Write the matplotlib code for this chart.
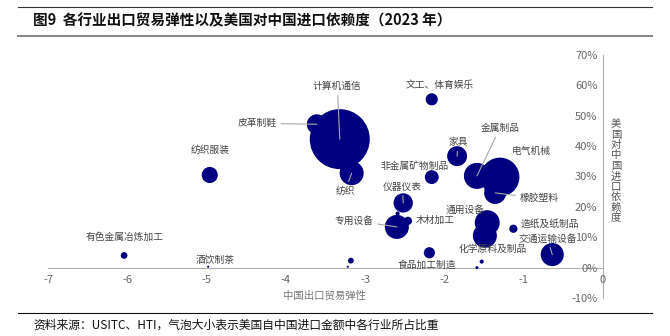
import matplotlib
matplotlib.use("Agg")
import matplotlib.pyplot as plt
from matplotlib.lines import Line2D

plt.rcParams['font.family'] = ['Noto Sans CJK SC', 'DejaVu Sans']

# ---- data ----
industries = ["计算机通信", "皮革制鞋", "纺织", "纺织服装", "有色金属冶炼加工", "酒饮制茶",
              "文工、体育娱乐", "金属制品", "家具", "电气机械", "非金属矿物制品", "仪器仪表",
              "橡胶塑料", "通用设备", "专用设备", "木材加工", "造纸及纸制品", "交通运输设备",
              "化学原料及制品", "食品加工制造", "", "", "", "", ""]
elasticity = [-3.32, -3.61, -3.17, -4.96, -6.04, -4.98,
              -2.16, -1.59, -1.84, -1.30, -2.16, -2.52,
              -1.36, -1.46, -2.60, -2.46, -1.13, -0.64,
              -1.49, -2.19, -2.59, -3.18, -3.22, -1.53, -1.59]
dependence = [42.3, 47.2, 31.1, 30.5, 4.0, 0.3,
              55.4, 30.2, 36.7, 29.8, 29.8, 21.3,
              24.6, 14.8, 13.4, 15.4, 12.8, 4.3,
              10.5, 4.9, 17.8, 2.3, 0.3, 2.0, 0.0]
share = [31.8, 3.5, 5.1, 2.3, 0.4, 0.04,
         1.3, 6.0, 3.5, 13.4, 1.7, 3.3,
         4.3, 5.5, 5.1, 0.6, 0.6, 4.7,
         5.1, 1.1, 0.15, 0.3, 0.04, 0.15, 0.08]
x_ticks = [-7, -6, -5, -4, -3, -2, -1, 0]
y_ticks = [-10, 0, 10, 20, 30, 40, 50, 60, 70]

# label positions (text placement) and whether a leader line is drawn
label_pos = {
    "计算机通信": (-3.35, 59.7, True),
    "皮革制鞋": (-4.36, 47.5, True),
    "纺织": (-3.25, 25.4, True),
    "纺织服装": (-4.96, 38.6, False),
    "有色金属冶炼加工": (-6.04, 10.2, False),
    "酒饮制茶": (-4.89, 2.6, False),
    "文工、体育娱乐": (-2.06, 60.1, False),
    "金属制品": (-1.30, 45.9, True),
    "家具": (-1.83, 41.3, True),
    "电气机械": (-0.90, 38.3, False),
    "非金属矿物制品": (-2.37, 33.3, False),
    "仪器仪表": (-2.53, 26.7, True),
    "橡胶塑料": (-0.81, 22.8, True),
    "通用设备": (-1.74, 19.1, False),
    "专用设备": (-3.14, 15.5, True),
    "木材加工": (-2.11, 15.8, False),
    "造纸及纸制品": (-0.67, 14.5, False),
    "交通运输设备": (-0.70, 9.6, True),
    "化学原料及制品": (-1.39, 6.3, False),
    "食品加工制造": (-2.22, 1.0, False),
}

W, H = 670, 336
fig = plt.figure(figsize=(W / 100, H / 100), dpi=100)
ax = fig.add_axes([48 / W, 1 - 298 / H, (603 - 48) / W, (298 - 55) / H])

ax.scatter(elasticity, dependence, s=[v * 58.7 for v in share], color="#000080",
           linewidths=0, zorder=3)

ax.set_xlim(-7, 0)
ax.set_ylim(-10, 70)
for s in ["top", "right"]:
    ax.spines[s].set_visible(False)
ax.spines["left"].set_position(("data", 0))
ax.spines["bottom"].set_position(("data", 0))
for s in ["left", "bottom"]:
    ax.spines[s].set_color("#b0b0b0")
    ax.spines[s].set_linewidth(0.8)
    ax.spines[s].set_zorder(1)
ax.set_xticks(x_ticks)
ax.set_xticklabels([str(t) for t in x_ticks])
ax.set_yticks(y_ticks)
ax.set_yticklabels([f"{t}%" for t in y_ticks])
ax.tick_params(axis="both", length=0, labelsize=8, labelcolor="#666666")
ax.tick_params(axis="x", pad=5)
ax.tick_params(axis="y", pad=4)

lab_col = "#444444"
for name, x, y in zip(industries, elasticity, dependence):
    if not name:
        continue
    tx, ty, line = label_pos[name]
    if line:
        ax.annotate(name, xy=(x, y), xytext=(tx, ty), ha="center", va="center",
                    fontsize=7, color=lab_col, zorder=5,
                    arrowprops=dict(arrowstyle="-", color="#a8a8a8", lw=0.8,
                                    shrinkA=1, shrinkB=0))
    else:
        ax.text(tx, ty, name, ha="center", va="center", fontsize=7,
                color=lab_col, zorder=5)

fig.text(325 / W, 1 - 296 / H, "中国出口贸易弹性", ha="center", va="center",
         fontsize=7.5, color="#777777")
fig.text(616 / W, 1 - 171 / H, "\n".join("美国对中国进口依赖度"), ha="center",
         va="center", fontsize=7.5, color="#555555", linespacing=1.05)

# title & source
fig.text(33 / W, 1 - 20 / H, "图9  各行业出口贸易弹性以及美国对中国进口依赖度（2023 年）",
         ha="left", va="center", fontsize=10.5, fontweight="bold", color="#111111")
fig.text(33 / W, 1 - 325 / H, "资料来源：USITC、HTI，气泡大小表示美国自中国进口金额中各行业所占比重",
         ha="left", va="center", fontsize=8.5, color="#111111")
fig.add_artist(Line2D([18 / W, 652 / W], [1 - 7 / H, 1 - 7 / H], color="#333333", lw=0.8))
fig.add_artist(Line2D([18 / W, 652 / W], [1 - 36 / H, 1 - 36 / H], color="#888888", lw=1.5))
fig.add_artist(Line2D([18 / W, 652 / W], [1 - 313 / H, 1 - 313 / H], color="#111111", lw=0.8))

fig.savefig("out.png", dpi=100)
